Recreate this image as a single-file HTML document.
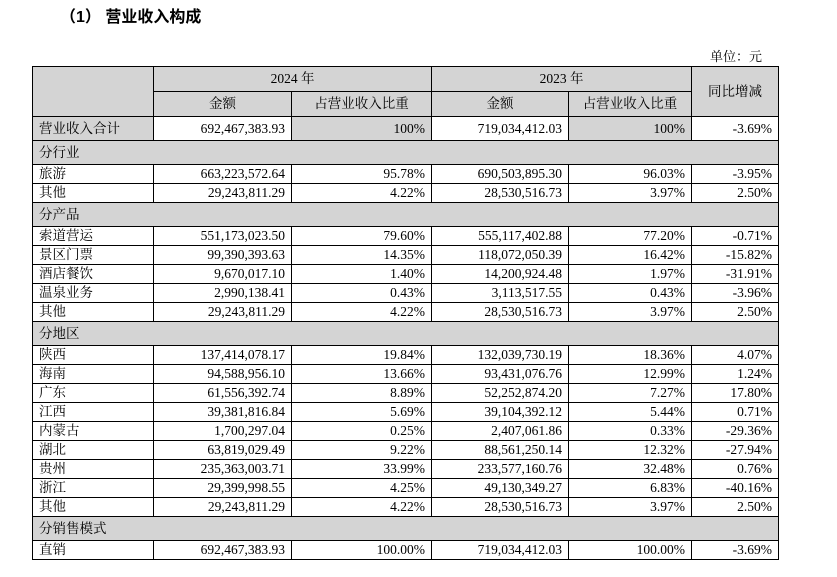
<!DOCTYPE html>
<html><head><meta charset="utf-8"><style>
body{margin:0;background:#fff;width:837px;height:577px;position:relative;overflow:hidden;font-family:"Liberation Serif","Noto Serif CJK SC",serif;color:#000}
.t{position:absolute;left:60px;top:3px;font-size:16px;font-family:"Liberation Sans","Noto Sans CJK SC",sans-serif;font-weight:bold}
.u{position:absolute;left:710px;top:46px;font-size:13px}
table{position:absolute;left:32px;top:66px;border-collapse:collapse;table-layout:fixed;width:746px;font-size:13.5px}
td{border:1px solid #000;padding:0 6px;white-space:nowrap;line-height:14px}
.g{background:#d4d4d4}
.c{text-align:center}
.r{text-align:right}
tr.h td{height:24px}
tr.h2 td{height:23px}
tr.s td{height:23px;background:#d4d4d4;padding-left:6px}
tr.d td{height:18px}
</style></head><body>
<div class="t">（1） 营业收入构成</div>
<div class="u">单位：元</div>
<table>
<colgroup><col style="width:121px"><col style="width:138px"><col style="width:140px"><col style="width:137px"><col style="width:123px"><col style="width:87px"></colgroup>
<tr class="h"><td class="g" rowspan="2"></td><td class="g c" colspan="2">2024 年</td><td class="g c" colspan="2">2023 年</td><td class="g c" rowspan="2">同比增减</td></tr>
<tr class="h"><td class="g c">金额</td><td class="g c">占营业收入比重</td><td class="g c">金额</td><td class="g c">占营业收入比重</td></tr>
<tr class="h2"><td class="g">营业收入合计</td><td class="r">692,467,383.93</td><td class="g r">100%</td><td class="r">719,034,412.03</td><td class="g r">100%</td><td class="r">-3.69%</td></tr>
<tr class="s"><td colspan="6">分行业</td></tr>
<tr class="d"><td>旅游</td><td class="r">663,223,572.64</td><td class="r">95.78%</td><td class="r">690,503,895.30</td><td class="r">96.03%</td><td class="r">-3.95%</td></tr>
<tr class="d"><td>其他</td><td class="r">29,243,811.29</td><td class="r">4.22%</td><td class="r">28,530,516.73</td><td class="r">3.97%</td><td class="r">2.50%</td></tr>
<tr class="s"><td colspan="6">分产品</td></tr>
<tr class="d"><td>索道营运</td><td class="r">551,173,023.50</td><td class="r">79.60%</td><td class="r">555,117,402.88</td><td class="r">77.20%</td><td class="r">-0.71%</td></tr>
<tr class="d"><td>景区门票</td><td class="r">99,390,393.63</td><td class="r">14.35%</td><td class="r">118,072,050.39</td><td class="r">16.42%</td><td class="r">-15.82%</td></tr>
<tr class="d"><td>酒店餐饮</td><td class="r">9,670,017.10</td><td class="r">1.40%</td><td class="r">14,200,924.48</td><td class="r">1.97%</td><td class="r">-31.91%</td></tr>
<tr class="d"><td>温泉业务</td><td class="r">2,990,138.41</td><td class="r">0.43%</td><td class="r">3,113,517.55</td><td class="r">0.43%</td><td class="r">-3.96%</td></tr>
<tr class="d"><td>其他</td><td class="r">29,243,811.29</td><td class="r">4.22%</td><td class="r">28,530,516.73</td><td class="r">3.97%</td><td class="r">2.50%</td></tr>
<tr class="s"><td colspan="6">分地区</td></tr>
<tr class="d"><td>陕西</td><td class="r">137,414,078.17</td><td class="r">19.84%</td><td class="r">132,039,730.19</td><td class="r">18.36%</td><td class="r">4.07%</td></tr>
<tr class="d"><td>海南</td><td class="r">94,588,956.10</td><td class="r">13.66%</td><td class="r">93,431,076.76</td><td class="r">12.99%</td><td class="r">1.24%</td></tr>
<tr class="d"><td>广东</td><td class="r">61,556,392.74</td><td class="r">8.89%</td><td class="r">52,252,874.20</td><td class="r">7.27%</td><td class="r">17.80%</td></tr>
<tr class="d"><td>江西</td><td class="r">39,381,816.84</td><td class="r">5.69%</td><td class="r">39,104,392.12</td><td class="r">5.44%</td><td class="r">0.71%</td></tr>
<tr class="d"><td>内蒙古</td><td class="r">1,700,297.04</td><td class="r">0.25%</td><td class="r">2,407,061.86</td><td class="r">0.33%</td><td class="r">-29.36%</td></tr>
<tr class="d"><td>湖北</td><td class="r">63,819,029.49</td><td class="r">9.22%</td><td class="r">88,561,250.14</td><td class="r">12.32%</td><td class="r">-27.94%</td></tr>
<tr class="d"><td>贵州</td><td class="r">235,363,003.71</td><td class="r">33.99%</td><td class="r">233,577,160.76</td><td class="r">32.48%</td><td class="r">0.76%</td></tr>
<tr class="d"><td>浙江</td><td class="r">29,399,998.55</td><td class="r">4.25%</td><td class="r">49,130,349.27</td><td class="r">6.83%</td><td class="r">-40.16%</td></tr>
<tr class="d"><td>其他</td><td class="r">29,243,811.29</td><td class="r">4.22%</td><td class="r">28,530,516.73</td><td class="r">3.97%</td><td class="r">2.50%</td></tr>
<tr class="s"><td colspan="6">分销售模式</td></tr>
<tr class="d"><td>直销</td><td class="r">692,467,383.93</td><td class="r">100.00%</td><td class="r">719,034,412.03</td><td class="r">100.00%</td><td class="r">-3.69%</td></tr>
</table>
</body></html>
